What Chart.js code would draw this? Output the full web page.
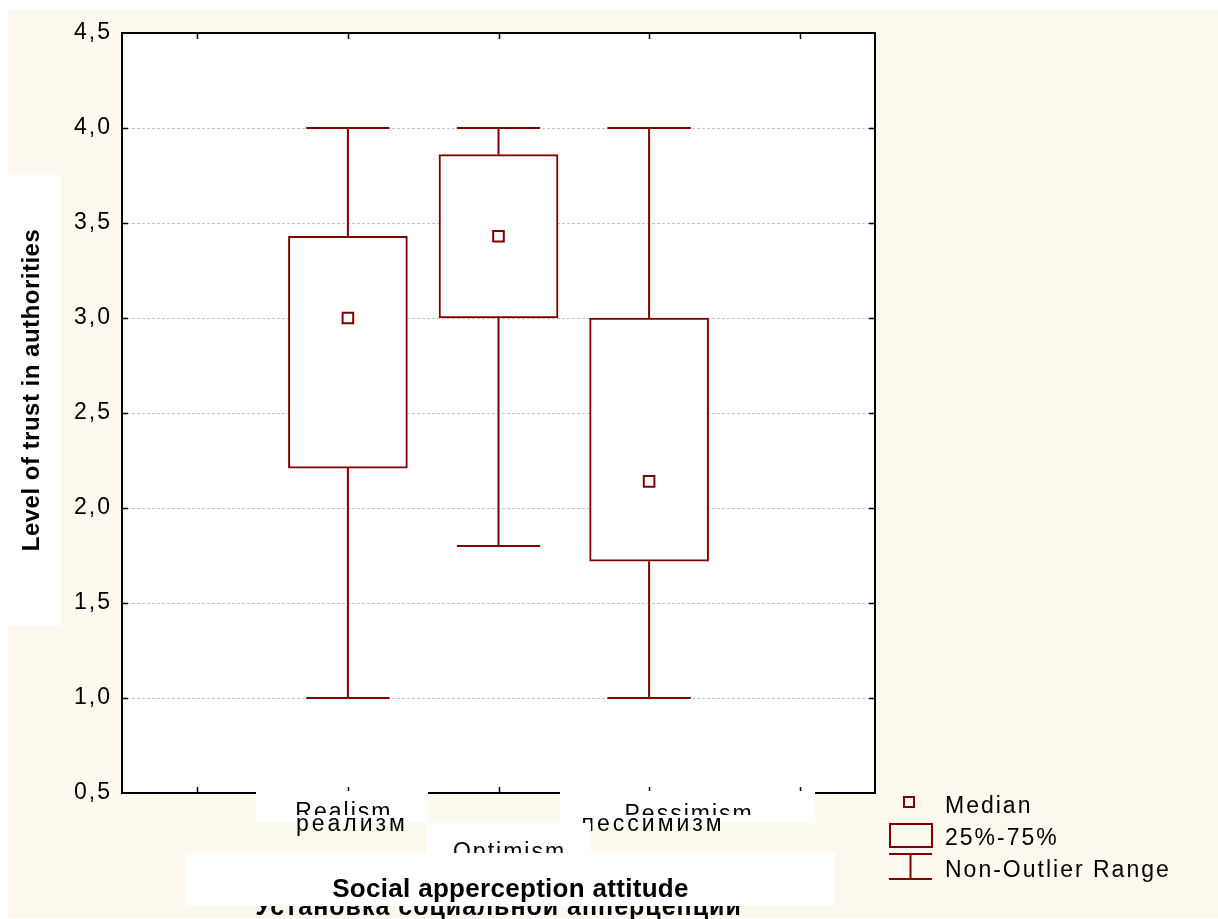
<!DOCTYPE html>
<html>
<head>
<meta charset="utf-8">
<script src="https://cdn.jsdelivr.net/npm/chart.js@4.4.1/dist/chart.umd.min.js"></script>
<style>
  html, body { margin: 0; padding: 0; background: #ffffff; }
  canvas { display: block; }
</style>
</head>
<body>
<canvas id="c" width="1218" height="919"></canvas>
<script>
// ---- data ----
const categories = ['', 'Realism', 'Optimism', 'Pessimism', ''];
const russianLabels = ['', 'реализм', 'оптимизм', 'пессимизм', ''];
const q1 = [null, 2.21, 3.00, 1.72, null];
const q3 = [null, 3.43, 3.86, 3.00, null];
const medians = [null, 3.00, 3.43, 2.14, null];
const whiskerLow = [null, 1.00, 1.80, 1.00, null];
const whiskerHigh = [null, 4.00, 4.00, 4.00, null];
const yMin = 0.5, yMax = 4.5, yStep = 0.5;
const yTitle = 'Level of trust in authorities';
const xTitle = 'Social apperception attitude';
const xTitleRu = 'Установка социальной апперцепции';
const legendLabels = ['Median', '25%-75%', 'Non-Outlier Range'];

const RED = '#800000';
const CREAM = '#fdf9ee';
const FONT = '"Liberation Sans", Arial, sans-serif';

const boxData = q1.map((v, i) => v == null ? null : [v, q3[i]]);

const decorPlugin = {
  id: 'decor',
  beforeDraw(chart) {
    const ctx = chart.ctx;
    const a = chart.chartArea;
    ctx.save();
    ctx.fillStyle = CREAM;
    ctx.fillRect(8, 10, chart.width - 8, 908);
    ctx.fillStyle = '#ffffff';
    ctx.fillRect(a.left, a.top, a.right - a.left, a.bottom - a.top);
    // y title box
    ctx.fillRect(8, 175, 53, 451);
    ctx.fillStyle = '#000';
    ctx.font = 'bold 24px ' + FONT;
    ctx.letterSpacing = '0.5px';
    ctx.textAlign = 'center';
    ctx.textBaseline = 'alphabetic';
    ctx.translate(39, 390);
    ctx.rotate(-Math.PI / 2);
    ctx.fillText(yTitle, 0, 0);
    ctx.restore();
    ctx.letterSpacing = '2px';
  },
  beforeDatasetsDraw(chart) {
    const ctx = chart.ctx;
    const x = chart.scales.x, y = chart.scales.y;
    const a = chart.chartArea;
    ctx.save();
    ctx.letterSpacing = '0px';
    // frame
    ctx.strokeStyle = '#000';
    ctx.lineWidth = 2;
    ctx.strokeRect(a.left, a.top, a.right - a.left, a.bottom - a.top);
    ctx.lineWidth = 1.5;
    // ticks on top/bottom at categories
    for (let i = 0; i < categories.length; i++) {
      const px = Math.round(x.getPixelForValue(i)) + 0.5;
      ctx.beginPath();
      ctx.moveTo(px, a.top); ctx.lineTo(px, a.top + 6);
      ctx.moveTo(px, a.bottom); ctx.lineTo(px, a.bottom - 6);
      ctx.stroke();
    }
    // ticks on left/right
    for (let v = yMin + yStep; v < yMax - 1e-9; v += yStep) {
      const py = Math.round(y.getPixelForValue(v)) + 0.5;
      ctx.beginPath();
      ctx.moveTo(a.left, py); ctx.lineTo(a.left + 6, py);
      ctx.moveTo(a.right, py); ctx.lineTo(a.right - 6, py);
      ctx.stroke();
    }
    // whiskers
    ctx.strokeStyle = RED;
    ctx.lineWidth = 2;
    const barW = chart.getDatasetMeta(0).data.find(d => d && d.width)?.width || 119;
    const capHalf = barW * 0.35;
    for (let i = 0; i < categories.length; i++) {
      if (whiskerHigh[i] == null) continue;
      const px = x.getPixelForValue(i);
      const yHi = y.getPixelForValue(whiskerHigh[i]);
      const yLo = y.getPixelForValue(whiskerLow[i]);
      const yQ1 = y.getPixelForValue(q1[i]);
      const yQ3 = y.getPixelForValue(q3[i]);
      ctx.beginPath();
      ctx.moveTo(px, yQ3); ctx.lineTo(px, yHi);
      ctx.moveTo(px - capHalf, yHi); ctx.lineTo(px + capHalf, yHi);
      ctx.moveTo(px, yQ1); ctx.lineTo(px, yLo);
      ctx.moveTo(px - capHalf, yLo); ctx.lineTo(px + capHalf, yLo);
      ctx.stroke();
    }
    ctx.restore();
  },
  afterDraw(chart) {
    const ctx = chart.ctx;
    const x = chart.scales.x;
    const px = i => x.getPixelForValue(i);
    ctx.save();
    ctx.textAlign = 'center';
    ctx.textBaseline = 'alphabetic';
    ctx.fillStyle = '#fff';
    ctx.fillRect(256, 791, 172, 32);
    ctx.fillRect(560, 791, 255, 32);
    // Russian category labels (original)
    ctx.fillStyle = '#000';
    ctx.font = '23px ' + FONT;
    ctx.letterSpacing = '3px';
    ctx.save();
    ctx.beginPath(); ctx.rect(0, 816, chart.width, 100); ctx.clip();
    ctx.fillText(russianLabels[1], px(1) + 4, 831);
    ctx.fillText(russianLabels[3], px(3) + 4, 831);
    ctx.fillText(russianLabels[2], px(2) + 4, 855);
    ctx.restore();
    // Russian axis title
    ctx.font = 'bold 25px ' + FONT;
    ctx.letterSpacing = '1px';
    ctx.fillText(xTitleRu, px(2), 915);
    // Optimism box
    ctx.fillStyle = '#fff';
    ctx.fillRect(427, 823, 164, 30);
    // English labels
    ctx.fillStyle = '#000';
    ctx.font = '23px ' + FONT;
    ctx.letterSpacing = '2px';
    ctx.save();
    ctx.beginPath(); ctx.rect(0, 791, chart.width, 24); ctx.clip();
    ctx.fillText(categories[1], px(1) - 4, 819);
    ctx.fillText(categories[3], px(3) + 40, 821);
    ctx.restore();
    ctx.save();
    ctx.beginPath(); ctx.rect(427, 823, 164, 30); ctx.clip();
    ctx.fillText(categories[2], px(2) + 11, 859);
    ctx.restore();
    // English axis title box
    ctx.fillStyle = '#fff';
    ctx.fillRect(186, 853, 649, 53);
    ctx.save();
    ctx.beginPath(); ctx.rect(186, 853, 649, 51); ctx.clip();
    ctx.fillStyle = '#000';
    ctx.font = 'bold 26px ' + FONT;
    ctx.letterSpacing = '0.3px';
    ctx.fillText(xTitle, px(2) + 12, 897);
    ctx.restore();
    // legend
    ctx.textAlign = 'left';
    ctx.font = '23px ' + FONT;
    ctx.letterSpacing = '2px';
    ctx.fillStyle = '#000';
    ctx.fillText(legendLabels[0], 945, 813);
    ctx.fillText(legendLabels[1], 945, 845);
    ctx.fillText(legendLabels[2], 945, 877);
    ctx.strokeStyle = RED;
    ctx.lineWidth = 2;
    ctx.strokeRect(904, 797, 10, 10);
    ctx.strokeRect(890, 824, 42, 23);
    ctx.beginPath();
    ctx.moveTo(889, 854); ctx.lineTo(932, 854);
    ctx.moveTo(889, 879); ctx.lineTo(932, 879);
    ctx.moveTo(910.5, 854); ctx.lineTo(910.5, 879);
    ctx.stroke();
    ctx.restore();
  }
};

new Chart(document.getElementById('c'), {
  type: 'bar',
  data: {
    labels: categories,
    datasets: [
      {
        type: 'bar',
        data: boxData,
        backgroundColor: '#ffffff',
        borderColor: RED,
        borderWidth: 2,
        borderSkipped: false,
        barThickness: 119,
        order: 2
      },
      {
        type: 'line',
        data: medians,
        showLine: false,
        pointStyle: 'rect',
        pointRadius: 7.5,
        pointBorderWidth: 2,
        pointBackgroundColor: '#ffffff',
        pointBorderColor: RED,
        order: 1
      }
    ]
  },
  options: {
    responsive: false,
    animation: false,
    devicePixelRatio: 1,
    layout: { padding: { left: 0, top: 33, right: 343, bottom: 126 } },
    plugins: { legend: { display: false }, tooltip: { enabled: false } },
    scales: {
      x: {
        offset: true,
        ticks: { display: false },
        grid: { display: false },
        border: { display: false },
        afterFit: s => { s.height = 0; }
      },
      y: {
        min: yMin, max: yMax,
        ticks: {
          stepSize: yStep,
          callback: v => Number(v).toFixed(1).replace('.', ','),
          font: { family: FONT, size: 23 },
          color: '#000',
          padding: 10
        },
        grid: {
          drawTicks: false,
          lineWidth: 1,
          color: c => (Math.abs(c.tick.value - yMin) < 1e-9 || Math.abs(c.tick.value - yMax) < 1e-9) ? 'rgba(0,0,0,0)' : '#c4c4c4'
        },
        border: { display: false, dash: [3, 2] },
        afterFit: s => { s.width = 122; }
      }
    }
  },
  plugins: [decorPlugin]
});
</script>
</body>
</html>
